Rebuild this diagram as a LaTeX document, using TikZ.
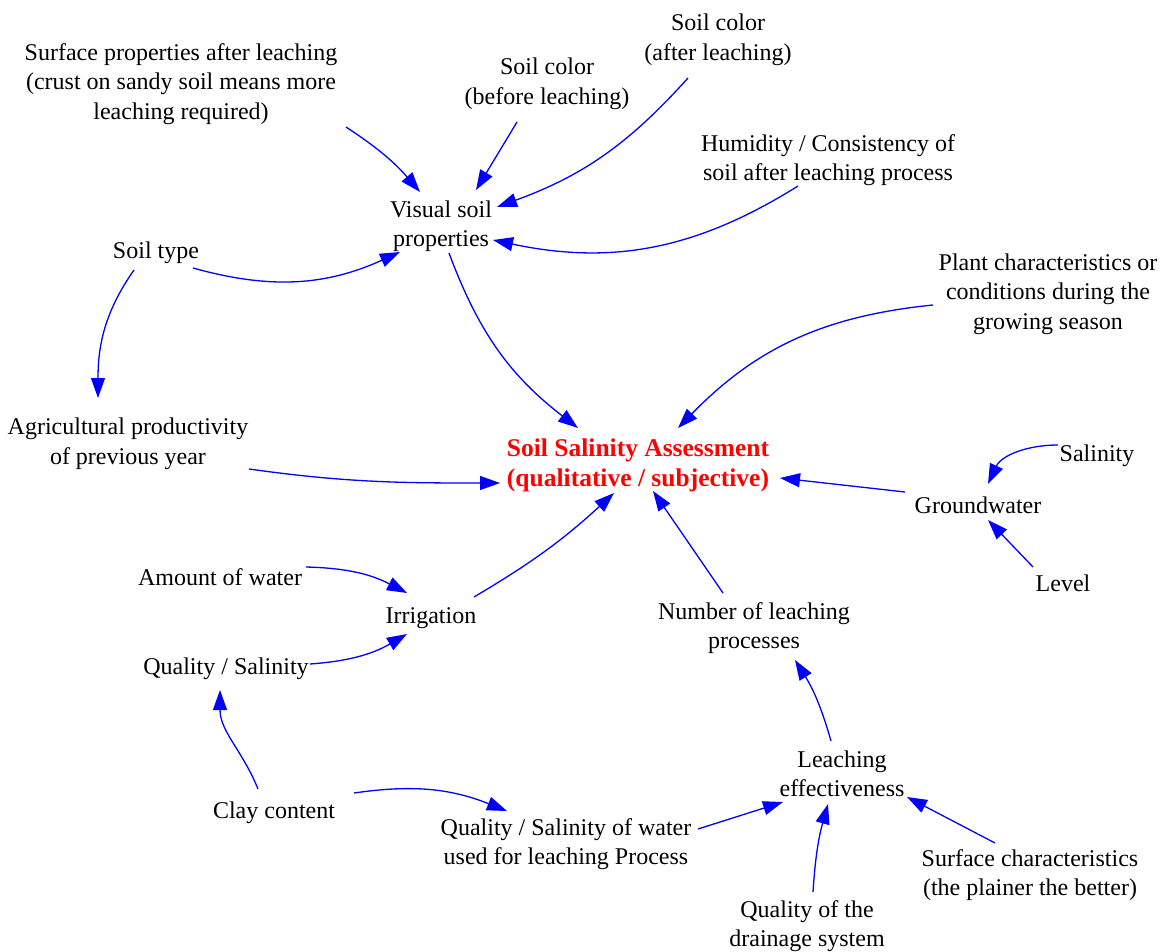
\documentclass[tikz,border=0pt]{standalone}
\usepackage{fontspec}
\setmainfont{Liberation Serif}
\usetikzlibrary{arrows.meta}
\begin{document}
\begin{tikzpicture}[x=1pt,y=1pt,
  factor/.style={font=\fontsize{24}{29.5}\selectfont, align=center, inner sep=1pt},
  target/.style={factor, font=\fontsize{25.5}{30}\selectfont\bfseries, text=red},
  link/.style={draw=blue, line width=1.3pt, -{Triangle[length=20pt,width=14pt]}},
]
\useasboundingbox (0,0) rectangle (1169,-952);

% factors
\node[factor] (surf)  at (181,-84)  {Surface properties after leaching\\(crust on sandy soil means more\\leaching required)};
\node[factor] (colb)  at (547,-84)  {Soil color\\(before leaching)};
\node[factor] (cola)  at (718,-40)  {Soil color\\(after leaching)};
\node[factor] (hum)   at (828,-160) {Humidity / Consistency of\\soil after leaching process};
\node[factor] (vis)   at (441,-226) {Visual soil\\properties};
\node[factor] (stype) at (156,-253) {Soil type};
\node[factor] (plant) at (1048,-294) {Plant characteristics or\\conditions during the\\growing season};
\node[factor] (agri)  at (128,-444) {Agricultural productivity\\of previous year};
\node[target] (ssa)   at (638,-465) {Soil Salinity Assessment\\(qualitative / subjective)};
\node[factor] (sal)   at (1097,-456) {Salinity};
\node[factor] (gw)    at (978,-505) {Groundwater};
\node[factor] (lev)   at (1063,-583) {Level};
\node[factor] (amt)   at (220,-577) {Amount of water};
\node[factor] (irr)   at (431,-618) {Irrigation};
\node[factor] (qs)    at (226,-669) {Quality / Salinity};
\node[factor] (num)   at (754,-628) {Number of leaching\\processes};
\node[factor] (leff)  at (842,-774) {Leaching\\effectiveness};
\node[factor] (clay)  at (274,-813) {Clay content};
\node[factor] (qw)    at (566,-844) {Quality / Salinity of water\\used for leaching Process};
\node[factor] (schar) at (1030,-875) {Surface characteristics\\(the plainer the better)};
\node[factor] (drain) at (807,-926) {Quality of the\\drainage system};

% influences
\draw[link] ([shift={(165,-43)}]surf.center) to[bend left=8] ([shift={(-21,34)}]vis.center);
\draw[link] ([shift={(-30,-38)}]colb.center) -- ([shift={(35,36)}]vis.center);
\draw[link] ([shift={(-30,-38)}]cola.center) to[bend left=14] ([shift={(56,19)}]vis.center);
\draw[link] ([shift={(-30,-26)}]hum.center) to[bend left=22] ([shift={(52,-14)}]vis.center);
\draw[link] ([shift={(37,-15)}]stype.center) to[bend right=20] ([shift={(-41,-26)}]vis.center);
\draw[link] ([shift={(-22,-17)}]stype.center) to[out=235,in=90] ([shift={(-30,46)}]agri.center);
\draw[link] ([shift={(8,-27)}]vis.center) to[bend right=16] ([shift={(-60,37)}]ssa.center);
\draw[link] ([shift={(-115,-11)}]plant.center) to[bend right=20] ([shift={(40,37)}]ssa.center);
\draw[link] ([shift={(121,-25)}]agri.center) to[out=-8,in=180] ([shift={(-138,-18)}]ssa.center);
\draw[link] ([shift={(-73,13)}]gw.center) -- ([shift={(142,-13)}]ssa.center);
\draw[link] ([shift={(-39,11)}]sal.center) to[out=180,in=65] ([shift={(10,21)}]gw.center);
\draw[link] ([shift={(-30,16)}]lev.center) -- ([shift={(10,-15)}]gw.center);
\draw[link] ([shift={(43,21)}]irr.center) to[bend right=6] ([shift={(-24,-28)}]ssa.center);
\draw[link] ([shift={(-31,35)}]num.center) -- ([shift={(15,-26)}]ssa.center);
\draw[link] ([shift={(86,10)}]amt.center) to[bend left=13] ([shift={(-24,25)}]irr.center);
\draw[link] ([shift={(84,5)}]qs.center) to[bend right=13] ([shift={(-24,-16)}]irr.center);
\draw[link] ([shift={(-16,24)}]clay.center) to[out=112,in=-90] ([shift={(-6,-21)}]qs.center);
\draw[link] ([shift={(80,20)}]clay.center) to[bend left=15] ([shift={(-59,33)}]qw.center);
\draw[link] ([shift={(132,15)}]qw.center) -- ([shift={(-59,-28)}]leff.center);
\draw[link] ([shift={(-11,33)}]leff.center) to[bend right=8] ([shift={(41,-32)}]num.center);
\draw[link] ([shift={(6,34)}]drain.center) to[bend left=6] ([shift={(-14,-30)}]leff.center);
\draw[link] ([shift={(-35,32)}]schar.center) -- ([shift={(65,-23)}]leff.center);
\end{tikzpicture}
\end{document}
